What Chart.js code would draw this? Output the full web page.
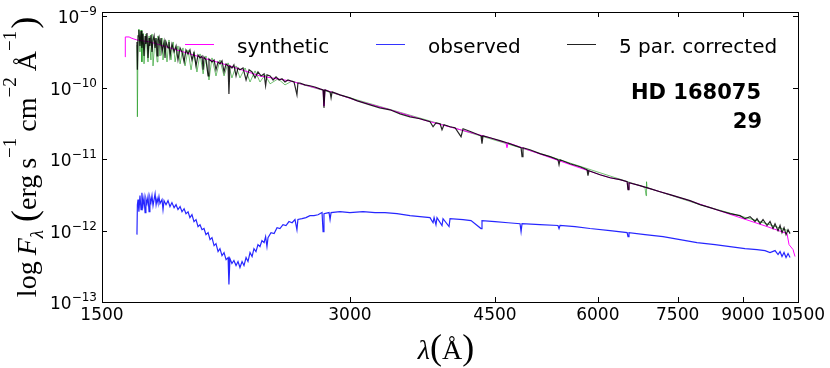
<!DOCTYPE html>
<html>
<head>
<meta charset="utf-8">
<script src="https://cdn.jsdelivr.net/npm/chart.js@4.4.1/dist/chart.umd.min.js"></script>
<style>
    html, body { margin: 0; padding: 0; background: #fff; }
    #wrap { width: 830px; height: 368px; }
</style>
</head>
<body>
<div id="wrap"><canvas id="specCanvas" width="830" height="368"></canvas></div>
<script>
// wavelength (A) and flux (erg s-1 cm-2 A-1)

// 5 par. corrected (black)
var corrWave = [1654, 1656, 1659, 1663, 1668, 1673, 1677, 1682, 1687, 1692, 1696, 1701, 1706, 1711, 1715, 1720, 1725, 1730, 1735, 1740,
    1745, 1750, 1754, 1759, 1764, 1769, 1774, 1784, 1789, 1794, 1804, 1809, 1814, 1824, 1835, 1845, 1855, 1866, 1876, 1887,
    1897, 1908, 1918, 1929, 1940, 1951, 1962, 1973, 1984, 1990, 1995, 2006, 2018, 2023, 2040, 2052, 2063, 2075, 2086, 2098,
    2110, 2122, 2134, 2139, 2145, 2157, 2169, 2182, 2194, 2206, 2225, 2244, 2263, 2282, 2301, 2320, 2340, 2360, 2370, 2379,
    2400, 2420, 2440, 2461, 2481, 2502, 2523, 2545, 2566, 2587, 2594, 2609, 2645, 2683, 2720, 2759, 2783, 2790, 2798, 2838,
    2846, 2854, 2918, 3000, 3063, 3173, 3261, 3356, 3451, 3549, 3649, 3753, 3785, 3816, 3860, 3881, 3903, 3969, 4025, 4093,
    4116, 4209, 4328, 4340, 4352, 4438, 4564, 4654, 4760, 4841, 4854, 4867, 4963, 5104, 5249, 5367, 5383, 5398, 5551, 5708,
    5821, 5837, 5853, 6036, 6208, 6384, 6512, 6528, 6546, 6751, 6942, 7139, 7342, 7550, 7764, 7984, 8210, 8443, 8682, 8929,
    9054, 9182, 9311, 9363, 9443, 9522, 9629, 9710, 9792, 9847, 9930, 9986, 10041, 10098, 10155, 10212, 10269];
var corrFlux = [4.40e-10, 1.79e-10, 5.34e-10, 6.47e-10, 3.87e-10, 6.27e-10, 3.63e-10, 5.69e-10, 2.80e-10, 5.34e-10, 4.12e-10, 5.88e-10, 2.63e-10, 5.00e-10, 3.87e-10, 5.51e-10, 3.19e-10, 4.69e-10, 5.34e-10, 3.63e-10,
    5.00e-10, 2.80e-10, 4.69e-10, 5.17e-10, 3.87e-10, 5.00e-10, 3.19e-10, 4.40e-10, 2.63e-10, 4.40e-10, 3.63e-10, 4.40e-10, 2.80e-10, 4.12e-10, 3.19e-10, 3.87e-10, 2.46e-10, 3.63e-10, 3.19e-10, 2.31e-10,
    3.40e-10, 2.99e-10, 3.40e-10, 2.46e-10, 3.09e-10, 2.03e-10, 2.89e-10, 2.63e-10, 2.80e-10, 1.79e-10, 2.71e-10, 2.46e-10, 1.47e-10, 2.54e-10, 2.31e-10, 2.46e-10, 1.79e-10, 2.31e-10, 2.17e-10, 2.39e-10,
    1.67e-10, 2.17e-10, 2.03e-10, 8.24e-11, 2.03e-10, 1.90e-10, 2.10e-10, 1.47e-10, 1.90e-10, 1.79e-10, 1.90e-10, 1.29e-10, 1.79e-10, 1.67e-10, 1.38e-10, 1.67e-10, 1.47e-10, 1.57e-10, 1.07e-10, 1.52e-10,
    1.47e-10, 1.29e-10, 1.43e-10, 1.29e-10, 1.34e-10, 1.21e-10, 1.29e-10, 1.25e-10, 1.21e-10, 7.98e-11, 1.17e-10, 1.17e-10, 1.10e-10, 1.07e-10, 1.03e-10, 9.68e-11, 9.38e-11, 5.25e-11, 9.38e-11, 8.79e-11,
    7.25e-11, 8.79e-11, 7.98e-11, 7.25e-11, 6.58e-11, 5.79e-11, 5.25e-11, 4.93e-11, 4.33e-11, 3.93e-11, 3.69e-11, 3.35e-11, 2.85e-11, 3.24e-11, 3.14e-11, 2.59e-11, 3.04e-11, 2.85e-11, 2.76e-11, 2.07e-11,
    2.67e-11, 2.43e-11, 2.13e-11, 1.65e-11, 2.13e-11, 2.00e-11, 1.82e-11, 1.70e-11, 1.55e-11, 1.45e-11, 1.09e-11, 1.45e-11, 1.36e-11, 1.20e-11, 1.09e-11, 9.85e-12, 8.38e-12, 9.85e-12, 8.66e-12, 7.86e-12,
    7.14e-12, 5.88e-12, 6.91e-12, 6.07e-12, 5.51e-12, 5.17e-12, 4.85e-12, 3.75e-12, 4.69e-12, 4.26e-12, 3.87e-12, 3.51e-12, 3.19e-12, 2.90e-12, 2.63e-12, 2.31e-12, 2.10e-12, 1.90e-12, 1.73e-12, 1.62e-12,
    1.47e-12, 1.57e-12, 1.34e-12, 1.47e-12, 1.25e-12, 1.43e-12, 1.18e-12, 1.34e-12, 1.07e-12, 1.25e-12, 1.00e-12, 1.18e-12, 9.38e-13, 1.10e-12, 8.79e-13, 1.03e-12, 9.08e-13];

// observed (blue)
var obsWave = [1654, 1656, 1659, 1663, 1668, 1673, 1677, 1682, 1687, 1692, 1696, 1701, 1706, 1711, 1715, 1720, 1725, 1730, 1735, 1740,
    1745, 1750, 1754, 1759, 1764, 1774, 1779, 1784, 1794, 1804, 1814, 1824, 1835, 1845, 1855, 1866, 1876, 1887, 1897, 1908,
    1918, 1929, 1940, 1951, 1962, 1973, 1984, 1995, 2006, 2018, 2029, 2040, 2052, 2063, 2075, 2086, 2098, 2110, 2122, 2134,
    2139, 2145, 2157, 2169, 2182, 2194, 2206, 2219, 2231, 2244, 2256, 2269, 2282, 2294, 2307, 2320, 2333, 2346, 2360, 2370,
    2379, 2386, 2406, 2427, 2447, 2467, 2488, 2509, 2530, 2552, 2573, 2587, 2594, 2624, 2653, 2683, 2713, 2744, 2775, 2783,
    2790, 2830, 2838, 2846, 2918, 3000, 3112, 3218, 3309, 3422, 3549, 3649, 3753, 3785, 3796, 3816, 3827, 3881, 3892, 3958,
    3969, 4116, 4209, 4328, 4340, 4501, 4668, 4827, 4841, 4854, 5104, 5367, 5383, 5398, 5629, 5870, 6208, 6512, 6528, 6546,
    6846, 7200, 7550, 7917, 8326, 8682, 9054, 9363, 9575, 9710, 9847, 9930, 9986, 10041, 10098, 10155, 10212, 10269];
var obsFlux = [8.79e-13, 2.31e-12, 2.72e-12, 1.84e-12, 3.09e-12, 1.97e-12, 3.40e-12, 2.24e-12, 2.90e-12, 1.79e-12, 2.80e-12, 2.39e-12, 2.99e-12, 1.84e-12, 2.90e-12, 2.47e-12, 3.09e-12, 2.24e-12, 2.72e-12, 3.29e-12,
    2.31e-12, 2.80e-12, 2.47e-12, 2.99e-12, 2.39e-12, 2.72e-12, 1.97e-12, 2.63e-12, 2.31e-12, 2.63e-12, 2.17e-12, 2.47e-12, 2.10e-12, 2.31e-12, 1.97e-12, 2.17e-12, 1.84e-12, 2.03e-12, 1.73e-12, 1.84e-12,
    1.52e-12, 1.67e-12, 1.34e-12, 1.43e-12, 1.14e-12, 1.21e-12, 1.03e-12, 1.07e-12, 8.79e-13, 9.38e-13, 7.48e-13, 7.98e-13, 6.17e-13, 6.58e-13, 5.09e-13, 5.60e-13, 4.47e-13, 4.93e-13, 3.93e-13, 4.19e-13,
    1.76e-13, 4.06e-13, 3.46e-13, 3.81e-13, 3.24e-13, 3.69e-13, 3.04e-13, 3.69e-13, 3.24e-13, 4.19e-13, 3.69e-13, 4.93e-13, 4.33e-13, 5.60e-13, 5.09e-13, 6.37e-13, 5.98e-13, 7.25e-13, 6.80e-13, 8.24e-13,
    5.98e-13, 7.98e-13, 9.38e-13, 9.08e-13, 1.10e-12, 1.07e-12, 1.21e-12, 1.18e-12, 1.34e-12, 1.29e-12, 1.43e-12, 1.03e-12, 1.43e-12, 1.47e-12, 1.52e-12, 1.62e-12, 1.62e-12, 1.67e-12, 1.79e-12, 9.68e-13,
    1.73e-12, 1.79e-12, 1.43e-12, 1.79e-12, 1.84e-12, 1.79e-12, 1.84e-12, 1.79e-12, 1.79e-12, 1.73e-12, 1.62e-12, 1.57e-12, 1.52e-12, 1.29e-12, 1.52e-12, 1.21e-12, 1.52e-12, 1.18e-12, 1.47e-12, 1.14e-12,
    1.47e-12, 1.43e-12, 1.38e-12, 1.07e-12, 1.38e-12, 1.34e-12, 1.29e-12, 1.25e-12, 9.68e-13, 1.25e-12, 1.21e-12, 1.18e-12, 1.07e-12, 1.18e-12, 1.14e-12, 1.07e-12, 1.00e-12, 9.38e-13, 8.24e-13, 9.38e-13,
    8.79e-13, 8.24e-13, 7.48e-13, 6.80e-13, 6.37e-13, 5.98e-13, 5.60e-13, 5.43e-13, 5.25e-13, 4.93e-13, 5.25e-13, 4.62e-13, 5.09e-13, 4.33e-13, 4.93e-13, 4.19e-13, 4.77e-13, 4.19e-13];

// synthetic (magenta)
var synWave = [1600, 1601, 1618, 1627, 1640, 1654, 1715, 1814, 1973, 2145, 2333, 2538, 2783, 2790, 2798, 3063, 3356, 3680, 4047, 4438,
    4640, 4654, 4668, 5383, 6036, 6208, 6384, 6512, 6528, 6546, 6751, 7139, 7699, 8756, 9629, 10183, 10240, 10355, 10413];
var synFlux = [2.71e-10, 5.17e-10, 5.17e-10, 5.00e-10, 4.84e-10, 4.69e-10, 4.40e-10, 3.63e-10, 2.71e-10, 2.03e-10, 1.47e-10, 1.25e-10, 9.38e-11, 5.60e-11, 9.38e-11, 6.58e-11, 4.93e-11, 3.57e-11, 2.67e-11, 2.00e-11,
    1.70e-11, 1.45e-11, 1.70e-11, 9.54e-12, 6.07e-12, 5.51e-12, 5.17e-12, 4.85e-12, 3.75e-12, 4.69e-12, 4.26e-12, 3.51e-12, 2.70e-12, 1.64e-12, 1.14e-12, 9.08e-13, 6.37e-13, 5.43e-13, 4.33e-13];

// unlabelled green spectrum under the corrected one
var greenWave = [1654, 1656, 1659, 1663, 1668, 1673, 1677, 1682, 1687, 1696, 1706, 1711, 1720, 1725, 1730, 1740, 1750, 1754, 1764, 1774,
    1779, 1789, 1799, 1809, 1819, 1830, 1840, 1855, 1866, 1881, 1892, 1908, 1924, 1940, 1956, 1973, 1990, 2006, 2023, 2040,
    2063, 2086, 2110, 2134, 2157, 2182, 2206, 2238, 2269, 2301, 2333, 2366, 2400, 2454, 2502, 2552, 2609, 3000, 3969, 5249,
    6751, 6846, 6865, 6875, 6885, 7984, 9443, 10212];
var greenFlux = [3.99e-10, 3.93e-11, 4.69e-10, 6.68e-10, 3.19e-10, 6.47e-10, 2.31e-10, 5.88e-10, 2.17e-10, 5.69e-10, 2.31e-10, 5.34e-10, 2.46e-10, 5.69e-10, 2.03e-10, 5.00e-10, 2.31e-10, 5.34e-10, 2.80e-10, 5.00e-10,
    2.46e-10, 4.69e-10, 2.31e-10, 4.69e-10, 2.46e-10, 4.40e-10, 2.31e-10, 3.87e-10, 2.17e-10, 3.63e-10, 2.03e-10, 3.40e-10, 1.79e-10, 3.19e-10, 1.67e-10, 2.99e-10, 1.57e-10, 2.80e-10, 1.29e-10, 2.63e-10,
    1.47e-10, 2.46e-10, 1.47e-10, 2.24e-10, 1.38e-10, 2.03e-10, 1.38e-10, 1.90e-10, 1.21e-10, 1.73e-10, 1.21e-10, 1.52e-10, 1.14e-10, 1.34e-10, 1.10e-10, 1.25e-10, 1.14e-10, 7.25e-11, 2.85e-11, 1.09e-11,
    4.26e-12, 4.00e-12, 3.09e-12, 4.85e-12, 4.00e-12, 2.31e-12, 1.34e-12, 1.00e-12];

var xTicks = [1500, 3000, 4500, 6000, 7500, 9000, 10500];
var yTicks = [1e-13, 1e-12, 1e-11, 1e-10, 1e-9];
var yTickExp = ['\u221213', '\u221212', '\u221211', '\u221210', '\u22129'];
var legendLabels = ['synthetic', 'observed', '5 par. corrected'];
var legendColors = ['#ff00ff', '#3333ff', '#222222'];
var starName = 'HD 168075';
var starNum = '29';

var toPoints = function (wave, flux) {
    var pts = [];
    for (var i = 0; i < wave.length; i++) {
        pts.push({ x: wave[i], y: flux[i] });
    }
    return pts;
};

// draws a row of text pieces centred on cx, baseline at 0 (after transform)
var drawPieces = function (ctx, pieces, cx) {
    var total = 0;
    pieces.forEach(function (p) {
        ctx.font = p.font;
        p.w = ctx.measureText(p.t).width + (p.gap || 0);
        total += p.w;
    });
    var x = cx - total / 2;
    ctx.textAlign = 'left';
    ctx.textBaseline = 'alphabetic';
    pieces.forEach(function (p) {
        ctx.font = p.font;
        ctx.fillText(p.t, x, p.dy || 0);
        x += p.w;
    });
};

var decorPlugin = {
    id: 'decor',
    afterDraw: function (chart) {
        var ctx = chart.ctx;
        var area = chart.chartArea;
        var xs = chart.scales.x;
        var ys = chart.scales.y;

        ctx.save();
        ctx.strokeStyle = '#000';
        ctx.lineWidth = 1;
        ctx.strokeRect(area.left + 0.5, area.top + 0.5, area.right - area.left, area.bottom - area.top);

        // inward ticks, all four sides
        ctx.beginPath();
        xTicks.forEach(function (v) {
            var px = Math.round(xs.getPixelForValue(v)) + 0.5;
            ctx.moveTo(px, area.bottom); ctx.lineTo(px, area.bottom - 5);
            ctx.moveTo(px, area.top); ctx.lineTo(px, area.top + 5);
        });
        yTicks.forEach(function (v) {
            var py = Math.round(ys.getPixelForValue(v)) + 0.5;
            ctx.moveTo(area.left, py); ctx.lineTo(area.left + 5, py);
            ctx.moveTo(area.right, py); ctx.lineTo(area.right - 5, py);
        });
        ctx.stroke();

        // y tick labels 10^n
        ctx.fillStyle = '#000';
        yTicks.forEach(function (v, i) {
            var py = ys.getPixelForValue(v);
            ctx.font = '12px "DejaVu Sans"';
            var supW = ctx.measureText(yTickExp[i]).width;
            ctx.textAlign = 'left';
            ctx.textBaseline = 'alphabetic';
            ctx.fillText(yTickExp[i], 97 - supW, py - 1);
            ctx.font = '17px "DejaVu Sans"';
            ctx.textAlign = 'right';
            ctx.fillText('10', 97 - supW, py + 7);
        });

        // legend
        ctx.lineWidth = 1;
        var legX = [185, 376, 567];
        legendLabels.forEach(function (lab, i) {
            ctx.strokeStyle = legendColors[i];
            ctx.beginPath();
            ctx.moveTo(legX[i], 44.5);
            ctx.lineTo(legX[i] + 29, 44.5);
            ctx.stroke();
            ctx.font = '20px "DejaVu Sans"';
            ctx.textAlign = 'left';
            ctx.textBaseline = 'alphabetic';
            ctx.fillText(lab, legX[i] + 52, 53);
        });

        // star label
        ctx.font = 'bold 21px "DejaVu Sans"';
        ctx.textAlign = 'right';
        ctx.fillText(starName, 761, 99);
        ctx.fillText(starNum, 762, 128);

        // x title
        var serif = '"Liberation Serif"';
        ctx.save();
        ctx.translate(0, 359);
        drawPieces(ctx, [
            { t: '\u03bb', font: 'italic 28px ' + serif },
            { t: '(', font: '36px ' + serif },
            { t: '\u00c5', font: '28px ' + serif },
            { t: ')', font: '36px ' + serif }
        ], 446);
        ctx.restore();

        // y title
        ctx.save();
        ctx.translate(36, 0);
        ctx.rotate(-Math.PI / 2);
        drawPieces(ctx, [
            { t: 'log', font: '28px ' + serif, gap: 6 },
            { t: 'F', font: 'italic 28px ' + serif },
            { t: '\u03bb', font: 'italic 19px ' + serif, dy: 7, gap: 8 },
            { t: '(', font: '36px ' + serif },
            { t: 'erg', font: '28px ' + serif, gap: 6 },
            { t: 's', font: '28px ' + serif },
            { t: '\u22121', font: '19px ' + serif, dy: -20, gap: 6 },
            { t: 'cm', font: '28px ' + serif },
            { t: '\u22122', font: '19px ' + serif, dy: -20, gap: 6 },
            { t: '\u00c5', font: '28px ' + serif },
            { t: '\u22121', font: '19px ' + serif, dy: -20, gap: 2 },
            { t: ')', font: '36px ' + serif }
        ], -157);
        ctx.restore();

        ctx.restore();
    }
};

var ctx = document.getElementById('specCanvas');

new Chart(ctx, {
    type: 'line',
    data: {
        datasets: [
            { label: '5 par. corrected', data: toPoints(corrWave, corrFlux), borderColor: 'rgba(0,0,0,0.85)', borderWidth: 1.2, order: 1 },
            { label: 'observed', data: toPoints(obsWave, obsFlux), borderColor: 'rgba(0,0,255,0.85)', borderWidth: 1.2, order: 2 },
            { label: 'synthetic', data: toPoints(synWave, synFlux), borderColor: '#ff00ff', order: 3 },
            { label: '', data: toPoints(greenWave, greenFlux), borderColor: 'rgba(0,140,0,0.55)', order: 4 }
        ]
    },
    options: {
        responsive: false,
        animation: false,
        layout: { padding: { left: 0, right: 32, top: 12, bottom: 0 } },
        elements: {
            point: { radius: 0 },
            line: { borderWidth: 1, tension: 0 }
        },
        plugins: {
            legend: { display: false },
            tooltip: { enabled: false }
        },
        scales: {
            x: {
                type: 'logarithmic',
                min: 1500,
                max: 10500,
                afterBuildTicks: function (scale) {
                    scale.ticks = xTicks.map(function (v) { return { value: v }; });
                },
                afterFit: function (scale) { scale.height = 66; },
                grid: { display: false, drawTicks: false },
                border: { display: false },
                ticks: {
                    autoSkip: false,
                    maxRotation: 0,
                    padding: 3,
                    color: '#000',
                    font: { family: 'DejaVu Sans', size: 17 },
                    callback: function (v) { return String(v); }
                }
            },
            y: {
                type: 'logarithmic',
                min: 1e-13,
                max: 1.156e-9,
                afterBuildTicks: function (scale) {
                    scale.ticks = yTicks.map(function (v) { return { value: v }; });
                },
                afterFit: function (scale) { scale.width = 102; },
                grid: { display: false, drawTicks: false },
                border: { display: false },
                ticks: { display: false }
            }
        }
    },
    plugins: [decorPlugin]
});
</script>
</body>
</html>
